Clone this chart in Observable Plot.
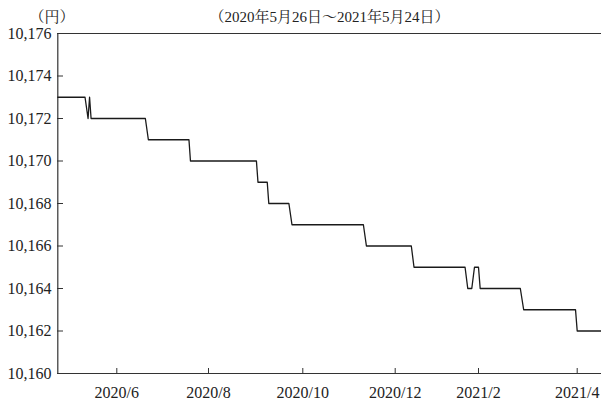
<!DOCTYPE html>
<html>
<head>
<meta charset="utf-8">
<script src="https://cdn.jsdelivr.net/npm/d3@7"></script>
<script src="https://cdn.jsdelivr.net/npm/@observablehq/plot@0.6"></script>
<style>
html, body { margin: 0; padding: 0; background: #fff; }
#chart svg { display: block; }
#chart svg text { font-family: "Liberation Serif", "Noto Serif CJK JP", serif !important; }
</style>
</head>
<body>
<div id="chart"></div>
<script>
const unitLabel = "（円）";
const subtitle = "（2020年5月26日～2021年5月24日）";

const dates = [
  "2020-04-23", "2020-05-11", "2020-05-13", "2020-05-14", "2020-05-15",
  "2020-06-20", "2020-06-22", "2020-07-19", "2020-07-20", "2020-09-01",
  "2020-09-02", "2020-09-08", "2020-09-09", "2020-09-22", "2020-09-24",
  "2020-11-10", "2020-11-12", "2020-12-13", "2020-12-15", "2021-01-22",
  "2021-01-24", "2021-01-27", "2021-01-29", "2021-02-01", "2021-02-02",
  "2021-02-26", "2021-02-28", "2021-03-31", "2021-04-01", "2021-04-16"
];
const values = [
  10173, 10173, 10172, 10173, 10172,
  10172, 10171, 10171, 10170, 10170,
  10169, 10169, 10168, 10168, 10167,
  10167, 10166, 10166, 10165, 10165,
  10164, 10164, 10165, 10165, 10164,
  10164, 10163, 10163, 10162, 10162
];

const yTicks = [10160, 10162, 10164, 10166, 10168, 10170, 10172, 10174, 10176];
const xTickDates = ["2020-06-01", "2020-08-01", "2020-10-01", "2020-12-01", "2021-02-01", "2021-04-01"];
const xTickLabels = ["2020/6", "2020/8", "2020/10", "2020/12", "2021/2", "2021/4"];

const data = dates.map((d, i) => ({date: new Date(d), value: values[i]}));
const xTicks = xTickDates.map(d => new Date(d));
const labelByTime = new Map(xTicks.map((d, i) => [+d, xTickLabels[i]]));
const fontFamily = '"Liberation Serif", "Noto Serif CJK JP", serif';

const chart = Plot.plot({
  width: 601,
  height: 402,
  marginTop: 33,
  marginBottom: 29,
  marginLeft: 57,
  marginRight: 0,
  style: {fontFamily, fontSize: "16px", color: "#222", background: "#fff"},
  x: {
    type: "utc",
    domain: [data[0].date, ...xTicks, data[data.length - 1].date],
    range: [57.3, 116.3, 208, 302.3, 394.7, 478, 576.7, 601]
  },
  y: {domain: [yTicks[0], yTicks[yTicks.length - 1]]},
  marks: [
    Plot.ruleY([yTicks[0], yTicks[yTicks.length - 1]], {stroke: "#333", strokeWidth: 1.2}),
    Plot.ruleX([data[0].date], {stroke: "#333", strokeWidth: 1.2}),
    Plot.axisY(yTicks, {tickSize: 6, dx: 6, fill: "none", stroke: "#333", label: null}),
    Plot.axisY(yTicks, {tickSize: 0, tickPadding: 6, tickFormat: d3.format(","), fill: "#222", fontSize: 16, label: null}),
    Plot.axisX(xTicks, {tickSize: 5, dy: -5, fill: "none", stroke: "#333", label: null}),
    Plot.axisX(xTicks, {tickSize: 0, tickPadding: 13, tickFormat: d => labelByTime.get(+d), fill: "#222", fontSize: 16, label: null}),
    Plot.line(data, {x: "date", y: "value", stroke: "#1a1a1a", strokeWidth: 1.3}),
    Plot.text([unitLabel], {frameAnchor: "top-left", dx: -28, dy: -22, fill: "#222", fontSize: 15}),
    Plot.text([subtitle], {frameAnchor: "top", dy: -22, fill: "#222", fontSize: 15})
  ]
});
document.getElementById("chart").appendChild(chart);
</script>
</body>
</html>
